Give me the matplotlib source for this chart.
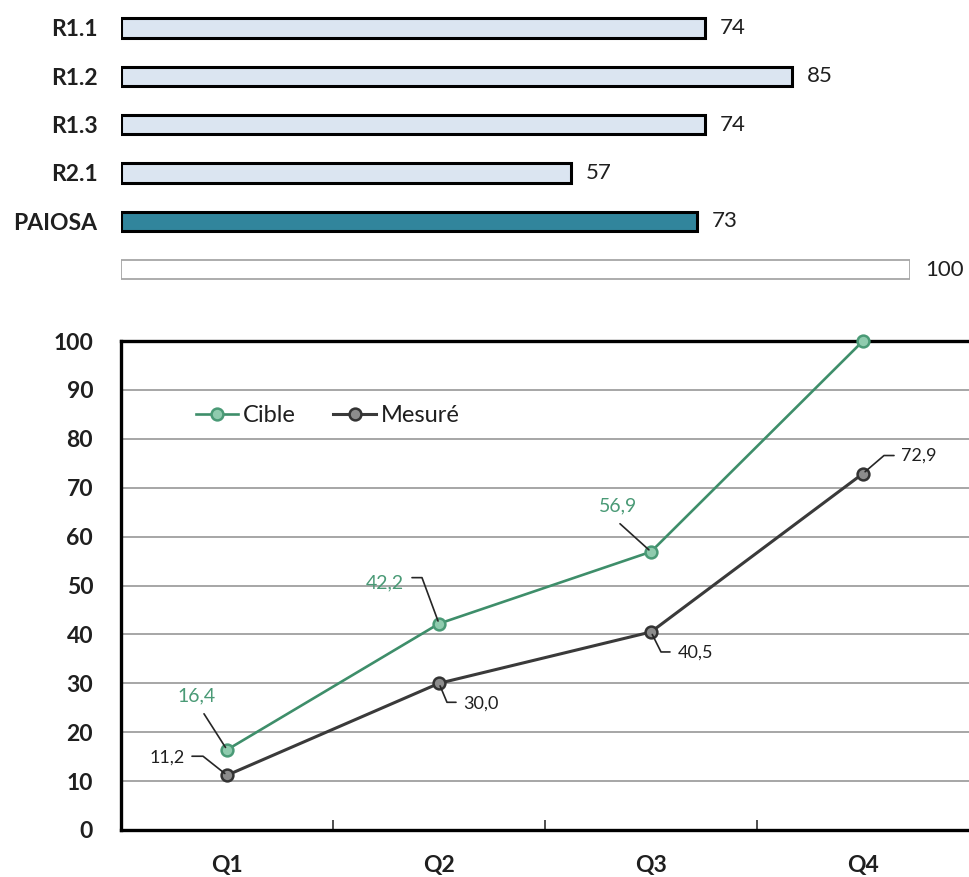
import math
import matplotlib
matplotlib.use("Agg")
import matplotlib.pyplot as plt
import numpy as np

plt.rcParams['font.family'] = ['Lato', 'DejaVu Sans']

# ---- data ----
bar_labels = ["R1.1", "R1.2", "R1.3", "R2.1", "PAIOSA", ""]
bar_values = [74, 85, 74, 57, 73, 100]
quarters = ["Q1", "Q2", "Q3", "Q4"]
cible = [16.4, 42.2, 56.9, 100.0]
mesure = [11.2, 30.0, 40.5, 72.9]

W, H = 969, 877
fig = plt.figure(figsize=(W / 100, H / 100), dpi=100)


def rect(l, t, r, b):
    return [l / W, 1 - b / H, (r - l) / W, (b - t) / H]


# ---------------- top bar chart ----------------
ax1 = fig.add_axes(rect(121, 3.8, 910, 293.8))
ypos = np.arange(len(bar_labels))
faces = ['#DBE5F1'] * 4 + ['#31859C', 'white']
edges = ['black'] * 5 + ['#A6A6A6']
lws = [2.2] * 5 + [1.3]
ax1.barh(ypos, bar_values, height=0.4, color=faces, edgecolor=edges, linewidth=lws)
ax1.set_xlim(0, 100)
ax1.set_ylim(len(bar_labels) - 0.5, -0.5)
for s in ax1.spines.values():
    s.set_visible(False)
ax1.set_xticks([])
ax1.set_yticks(ypos, bar_labels, fontsize=16.5, fontweight='bold', color='#1F1F1F')
ax1.tick_params(axis='y', length=0, pad=17)
for i, v in enumerate(bar_values):
    ax1.annotate(str(v), xy=(v, i), xytext=(11, 0), textcoords='offset points',
                 ha='left', va='center', fontsize=16, color='#1F1F1F', clip_on=False)

# ---------------- bottom line chart ----------------
ax2 = fig.add_axes(rect(121, 341, 969, 830))
x = np.arange(len(quarters))
green_line = '#3E8E6A'
green_text = '#4A9A76'
ax2.plot(x, cible, color=green_line, lw=1.9, marker='o', ms=8.5, mfc='#8FCBAE',
         mec='#4A9A76', mew=1.8, label='Cible', zorder=3, clip_on=False)
ax2.plot(x, mesure, color='#3A3A3A', lw=2.2, marker='o', ms=8.5, mfc='#8C8C8C',
         mec='#333333', mew=1.8, label='Mesuré', zorder=3, clip_on=False)
ax2.set_xlim(-0.5, len(quarters) - 0.5)
ax2.set_ylim(0, 100)
ax2.set_yticks(range(0, 101, 10))
ax2.grid(axis='y', color='#A6A6A6', lw=1.4)
ax2.set_axisbelow(True)
for k in ['top', 'left', 'bottom']:
    ax2.spines[k].set_linewidth(2.4)
    ax2.spines[k].set_color('black')
ax2.spines['right'].set_visible(False)
ax2.set_xticks(x, quarters, fontsize=16.5, fontweight='bold', color='#1F1F1F')
ax2.set_xticks(x[:-1] + 0.5, minor=True)
ax2.tick_params(axis='x', which='major', length=0, pad=18)
ax2.tick_params(axis='x', which='minor', direction='in', length=7, width=1.3, color='#404040')
ax2.tick_params(axis='y', length=0, pad=20, labelsize=16.5)
for t in ax2.get_yticklabels():
    t.set_fontweight('bold')
    t.set_color('#1F1F1F')

leg = ax2.legend(loc='center left', bbox_to_anchor=(0.088, 0.847), ncol=2, frameon=False,
                 fontsize=17, handlelength=1.8, handletextpad=0.2, columnspacing=1.6,
                 borderpad=0, borderaxespad=0)
for t in leg.get_texts():
    t.set_color('#1F1F1F')

PX = 0.72  # px -> points


def fmt(v):
    return f"{v:.1f}".replace('.', ',')


def label(xi, yv, text_off, leader, color, tcolor, fs):
    """text_off: (dx,dy) px of text centre from point (y up).
    leader: px offsets from point: far end, then optional bend."""
    ax2.annotate(fmt(yv), xy=(xi, yv), xytext=(text_off[0] * PX, text_off[1] * PX),
                 textcoords='offset points', ha='center', va='center',
                 fontsize=fs, color=tcolor, zorder=5)
    end = leader[0]
    if len(leader) == 1:
        cs = 'arc3'
    else:
        bx, by = leader[1]
        ang = math.degrees(math.atan2(by, bx))
        cs = f'angle,angleA=0,angleB={ang:.1f},rad=0'
    ax2.annotate('', xy=(xi, yv), xytext=(end[0] * PX, end[1] * PX), textcoords='offset points',
                 arrowprops=dict(arrowstyle='-', color=color, lw=1.2, shrinkA=0, shrinkB=2,
                                 connectionstyle=cs), zorder=4)


lead_col = '#262626'
# Cible labels (Q4 unlabelled)
label(0, cible[0], (-30, 54), [(-23, 36)], lead_col, green_text, 14)
label(1, cible[1], (-54, 41), [(-27, 46), (-17, 46)], lead_col, green_text, 14)
label(2, cible[2], (-33, 46), [(-31, 28)], lead_col, green_text, 14)
# Mesuré labels
label(0, mesure[0], (-60, 18), [(-35, 19), (-24, 19)], lead_col, '#1F1F1F', 13)
label(1, mesure[1], (42, -20), [(17, -19), (8, -19)], lead_col, '#1F1F1F', 13)
label(2, mesure[2], (44, -21), [(19, -20), (10, -20)], lead_col, '#1F1F1F', 13)
label(3, mesure[3], (56, 18), [(31, 18), (21, 18)], lead_col, '#1F1F1F', 13)

fig.savefig('out.png', dpi=100)
